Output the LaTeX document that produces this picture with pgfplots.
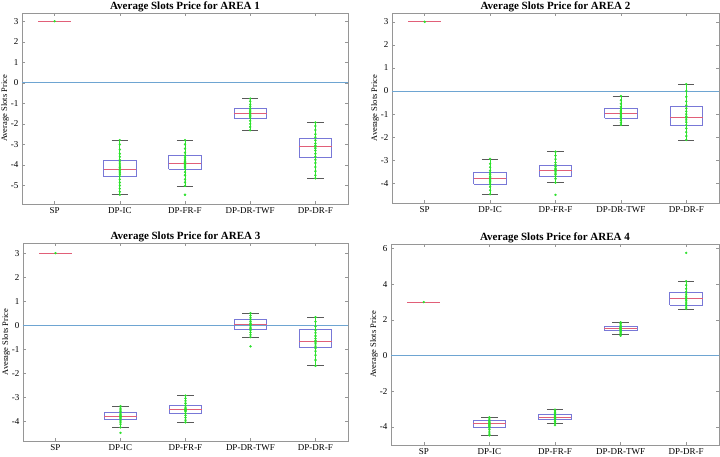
\documentclass[border=0pt]{standalone}
\usepackage{fontspec}
\setmainfont{Liberation Serif}
\usepackage{pgfplots}
\pgfplotsset{compat=1.18}

\definecolor{boxblue}{RGB}{120,120,215}
\definecolor{medred}{RGB}{225,95,120}
\definecolor{dotgreen}{RGB}{45,225,45}
\definecolor{zeroblue}{RGB}{110,165,210}
\definecolor{framegray}{RGB}{150,150,150}
\definecolor{capgray}{RGB}{90,90,90}

\pgfplotsset{
  slotpanel/.style={
    scale only axis,
    anchor=south west,
    xmin=0.5, xmax=5.5,
    xtick={1,2,3,4,5},
    xticklabels={SP,DP-IC,DP-FR-F,DP-DR-TWF,DP-DR-F},
    tick align=inside,
    major tick length=3pt,
    tick style={draw=framegray, line width=0.5pt},
    axis line style={draw=framegray, line width=0.6pt},
    ticklabel style={font=\fontsize{9}{10}\selectfont},
    /pgf/number format/assume math mode=true,
    title style={at={(0.5,1)}, anchor=base, yshift=-3pt,
      font=\fontsize{11}{12}\selectfont\bfseries},
    every axis y label/.style={at={(axis description cs:0,0.5)}, xshift=-17pt,
      rotate=90, anchor=center, font=\fontsize{8.5}{9}\selectfont},
    ylabel={Average Slots Price},
    unbounded coords=jump,
  },
  % whisker caps
  caps/.style={draw=capgray, line width=0.6pt, mark=none},
  % whisker stems, overlaid by the raw samples
  stems/.style={draw=dotgreen, line width=0.7pt, mark=none},
  % interquartile boxes
  iqbox/.style={draw=boxblue, line width=0.8pt, mark=none},
  % medians
  med/.style={draw=medred, line width=1pt, mark=none},
  zeroref/.style={draw=zeroblue, line width=1pt, mark=none},
  rawdots/.style={only marks, draw=dotgreen, fill=dotgreen, mark=*, mark size=1.0pt},
}

\begin{document}
\begin{tikzpicture}
\useasboundingbox (0,0) rectangle (720pt,457pt);

% ---------------- AREA 1 ----------------
\begin{axis}[slotpanel, at={(22pt,253pt)}, width=326pt, height=191pt,
  ymin=-5.9, ymax=3.4, ytick={-5,-4,...,3},
  title={Average Slots Price for AREA 1}]
  \addplot[zeroref] coordinates {(0.5,0) (5.5,0)};
  \addplot[caps] coordinates {
    (0.875,3) (1.125,3) (1,nan)
    (1.875,-2.79) (2.125,-2.79) (2,nan) (1.875,-5.45) (2.125,-5.45) (2,nan)
    (2.875,-2.79) (3.125,-2.79) (3,nan) (2.875,-5.02) (3.125,-5.02) (3,nan)
    (3.875,-0.77) (4.125,-0.77) (4,nan) (3.875,-2.31) (4.125,-2.31) (4,nan)
    (4.875,-1.93) (5.125,-1.93) (5,nan) (4.875,-4.65) (5.125,-4.65)
  };
  \addplot[stems] coordinates {
    (2,-2.79) (2,-5.45) (2,nan)
    (3,-2.79) (3,-5.02) (3,nan)
    (4,-0.77) (4,-2.31) (4,nan)
    (5,-1.93) (5,-4.65)
  };
  \addplot[iqbox] coordinates {
    (0.75,3) (1.25,3) (1,nan)
    (1.75,-4.57) (2.25,-4.57) (2.25,-3.76) (1.75,-3.76) (1.75,-4.57) (2,nan)
    (2.75,-4.21) (3.25,-4.21) (3.25,-3.55) (2.75,-3.55) (2.75,-4.21) (3,nan)
    (3.75,-1.71) (4.25,-1.71) (4.25,-1.25) (3.75,-1.25) (3.75,-1.71) (4,nan)
    (4.75,-3.65) (5.25,-3.65) (5.25,-2.71) (4.75,-2.71) (4.75,-3.65)
  };
  \addplot[med] coordinates {
    (0.75,3) (1.25,3) (1,nan)
    (1.75,-4.21) (2.25,-4.21) (2,nan)
    (2.75,-3.92) (3.25,-3.92) (3,nan)
    (3.75,-1.47) (4.25,-1.47) (4,nan)
    (4.75,-3.12) (5.25,-3.12)
  };
  \addplot[rawdots] coordinates {
    (1,3)
    (2,-2.79) (2,-3.0) (2,-3.25) (2,-3.45) (2,-3.6) (2,-3.75) (2,-3.85) (2,-3.95) (2,-4.05) (2,-4.12) (2,-4.2) (2,-4.25) (2,-4.3) (2,-4.38) (2,-4.45) (2,-4.55) (2,-4.7) (2,-4.85) (2,-5.0) (2,-5.15) (2,-5.3) (2,-5.45)
    (3,-2.79) (3,-3.0) (3,-3.2) (3,-3.4) (3,-3.55) (3,-3.65) (3,-3.75) (3,-3.82) (3,-3.88) (3,-3.92) (3,-3.97) (3,-4.05) (3,-4.12) (3,-4.2) (3,-4.35) (3,-4.5) (3,-4.7) (3,-4.85) (3,-5.02) (3,-5.45)
    (4,-0.77) (4,-0.9) (4,-1.05) (4,-1.15) (4,-1.25) (4,-1.32) (4,-1.38) (4,-1.42) (4,-1.47) (4,-1.52) (4,-1.58) (4,-1.65) (4,-1.72) (4,-1.85) (4,-2.0) (4,-2.15) (4,-2.31)
    (5,-1.93) (5,-2.1) (5,-2.3) (5,-2.5) (5,-2.65) (5,-2.8) (5,-2.95) (5,-3.05) (5,-3.12) (5,-3.2) (5,-3.3) (5,-3.45) (5,-3.6) (5,-3.75) (5,-3.9) (5,-4.1) (5,-4.3) (5,-4.5) (5,-4.65)
  };
\end{axis}

% ---------------- AREA 2 ----------------
\begin{axis}[slotpanel, at={(392pt,254pt)}, width=327pt, height=190pt,
  ymin=-4.85, ymax=3.38, ytick={-4,-3,...,3},
  title={Average Slots Price for AREA 2}]
  \addplot[zeroref] coordinates {(0.5,0) (5.5,0)};
  \addplot[caps] coordinates {
    (0.875,3) (1.125,3) (1,nan)
    (1.875,-2.94) (2.125,-2.94) (2,nan) (1.875,-4.47) (2.125,-4.47) (2,nan)
    (2.875,-2.63) (3.125,-2.63) (3,nan) (2.875,-3.97) (3.125,-3.97) (3,nan)
    (3.875,-0.22) (4.125,-0.22) (4,nan) (3.875,-1.47) (4.125,-1.47) (4,nan)
    (4.875,0.3) (5.125,0.3) (5,nan) (4.875,-2.12) (5.125,-2.12)
  };
  \addplot[stems] coordinates {
    (2,-2.94) (2,-4.47) (2,nan)
    (3,-2.63) (3,-3.97) (3,nan)
    (4,-0.22) (4,-1.47) (4,nan)
    (5,0.3) (5,-2.12)
  };
  \addplot[iqbox] coordinates {
    (0.75,3) (1.25,3) (1,nan)
    (1.75,-4.04) (2.25,-4.04) (2.25,-3.54) (1.75,-3.54) (1.75,-4.04) (2,nan)
    (2.75,-3.68) (3.25,-3.68) (3.25,-3.2) (2.75,-3.2) (2.75,-3.68) (3,nan)
    (3.75,-1.18) (4.25,-1.18) (4.25,-0.75) (3.75,-0.75) (3.75,-1.18) (4,nan)
    (4.75,-1.47) (5.25,-1.47) (5.25,-0.65) (4.75,-0.65) (4.75,-1.47)
  };
  \addplot[med] coordinates {
    (0.75,3) (1.25,3) (1,nan)
    (1.75,-3.81) (2.25,-3.81) (2,nan)
    (2.75,-3.45) (3.25,-3.45) (3,nan)
    (3.75,-0.97) (4.25,-0.97) (4,nan)
    (4.75,-1.14) (5.25,-1.14)
  };
  \addplot[rawdots] coordinates {
    (1,3)
    (2,-2.94) (2,-3.15) (2,-3.3) (2,-3.45) (2,-3.55) (2,-3.62) (2,-3.7) (2,-3.76) (2,-3.81) (2,-3.86) (2,-3.92) (2,-3.98) (2,-4.05) (2,-4.15) (2,-4.3) (2,-4.47)
    (3,-2.63) (3,-2.8) (3,-2.95) (3,-3.1) (3,-3.2) (3,-3.28) (3,-3.35) (3,-3.41) (3,-3.45) (3,-3.5) (3,-3.56) (3,-3.62) (3,-3.7) (3,-3.8) (3,-3.97) (3,-4.5)
    (4,-0.22) (4,-0.4) (4,-0.55) (4,-0.68) (4,-0.76) (4,-0.83) (4,-0.9) (4,-0.95) (4,-0.99) (4,-1.04) (4,-1.1) (4,-1.17) (4,-1.27) (4,-1.37) (4,-1.47)
    (5,0.3) (5,0.0) (5,-0.25) (5,-0.45) (5,-0.62) (5,-0.75) (5,-0.88) (5,-1.0) (5,-1.1) (5,-1.16) (5,-1.25) (5,-1.35) (5,-1.48) (5,-1.62) (5,-1.78) (5,-1.95) (5,-2.12)
  };
\end{axis}

% ---------------- AREA 3 ----------------
\begin{axis}[slotpanel, at={(23pt,16pt)}, width=325pt, height=198pt,
  ymin=-4.82, ymax=3.42, ytick={-4,-3,...,3},
  title={Average Slots Price for AREA 3}]
  \addplot[zeroref] coordinates {(0.5,0) (5.5,0)};
  \addplot[caps] coordinates {
    (0.875,3) (1.125,3) (1,nan)
    (1.875,-3.37) (2.125,-3.37) (2,nan) (1.875,-4.25) (2.125,-4.25) (2,nan)
    (2.875,-2.93) (3.125,-2.93) (3,nan) (2.875,-4.04) (3.125,-4.04) (3,nan)
    (3.875,0.5) (4.125,0.5) (4,nan) (3.875,-0.5) (4.125,-0.5) (4,nan)
    (4.875,0.33) (5.125,0.33) (5,nan) (4.875,-1.69) (5.125,-1.69)
  };
  \addplot[stems] coordinates {
    (2,-3.37) (2,-4.25) (2,nan)
    (3,-2.93) (3,-4.04) (3,nan)
    (4,0.5) (4,-0.5) (4,nan)
    (5,0.33) (5,-1.69)
  };
  \addplot[iqbox] coordinates {
    (0.75,3) (1.25,3) (1,nan)
    (1.75,-3.93) (2.25,-3.93) (2.25,-3.61) (1.75,-3.61) (1.75,-3.93) (2,nan)
    (2.75,-3.69) (3.25,-3.69) (3.25,-3.35) (2.75,-3.35) (2.75,-3.69) (3,nan)
    (3.75,-0.19) (4.25,-0.19) (4.25,0.23) (3.75,0.23) (3.75,-0.19) (4,nan)
    (4.75,-0.92) (5.25,-0.92) (5.25,-0.19) (4.75,-0.19) (4.75,-0.92)
  };
  \addplot[med] coordinates {
    (0.75,3) (1.25,3) (1,nan)
    (1.75,-3.79) (2.25,-3.79) (2,nan)
    (2.75,-3.51) (3.25,-3.51) (3,nan)
    (3.75,0.02) (4.25,0.02) (4,nan)
    (4.75,-0.67) (5.25,-0.67)
  };
  \addplot[rawdots] coordinates {
    (1,3)
    (2,-3.37) (2,-3.45) (2,-3.53) (2,-3.6) (2,-3.66) (2,-3.72) (2,-3.77) (2,-3.8) (2,-3.84) (2,-3.89) (2,-3.95) (2,-4.03) (2,-4.12) (2,-4.25) (2,-4.48)
    (3,-2.93) (3,-3.05) (3,-3.15) (3,-3.25) (3,-3.34) (3,-3.41) (3,-3.47) (3,-3.51) (3,-3.55) (3,-3.6) (3,-3.67) (3,-3.75) (3,-3.85) (3,-3.95) (3,-4.04)
    (4,0.5) (4,0.4) (4,0.3) (4,0.22) (4,0.15) (4,0.08) (4,0.03) (4,-0.02) (4,-0.08) (4,-0.14) (4,-0.2) (4,-0.3) (4,-0.4) (4,-0.5) (4,-0.88)
    (5,0.33) (5,0.15) (5,-0.05) (5,-0.2) (5,-0.32) (5,-0.45) (5,-0.56) (5,-0.64) (5,-0.7) (5,-0.78) (5,-0.87) (5,-0.95) (5,-1.08) (5,-1.25) (5,-1.45) (5,-1.69)
  };
\end{axis}

% ---------------- AREA 4 ----------------
\begin{axis}[slotpanel, at={(391pt,12pt)}, width=328pt, height=201pt,
  ymin=-5.01, ymax=6.26, ytick={-4,-2,...,6},
  title={Average Slots Price for AREA 4}]
  \addplot[zeroref] coordinates {(0.5,0) (5.5,0)};
  \addplot[caps] coordinates {
    (0.875,3) (1.125,3) (1,nan)
    (1.875,-3.46) (2.125,-3.46) (2,nan) (1.875,-4.47) (2.125,-4.47) (2,nan)
    (2.875,-3.03) (3.125,-3.03) (3,nan) (2.875,-3.78) (3.125,-3.78) (3,nan)
    (3.875,1.87) (4.125,1.87) (4,nan) (3.875,1.22) (4.125,1.22) (4,nan)
    (4.875,4.17) (5.125,4.17) (5,nan) (4.875,2.62) (5.125,2.62)
  };
  \addplot[stems] coordinates {
    (2,-3.46) (2,-4.47) (2,nan)
    (3,-3.03) (3,-3.78) (3,nan)
    (4,1.87) (4,1.22) (4,nan)
    (5,4.17) (5,2.62)
  };
  \addplot[iqbox] coordinates {
    (0.75,3) (1.25,3) (1,nan)
    (1.75,-4.02) (2.25,-4.02) (2.25,-3.65) (1.75,-3.65) (1.75,-4.02) (2,nan)
    (2.75,-3.59) (3.25,-3.59) (3.25,-3.31) (2.75,-3.31) (2.75,-3.59) (3,nan)
    (3.75,1.4) (4.25,1.4) (4.25,1.65) (3.75,1.65) (3.75,1.4) (4,nan)
    (4.75,2.82) (5.25,2.82) (5.25,3.52) (4.75,3.52) (4.75,2.82)
  };
  \addplot[med] coordinates {
    (0.75,3) (1.25,3) (1,nan)
    (1.75,-3.83) (2.25,-3.83) (2,nan)
    (2.75,-3.46) (3.25,-3.46) (3,nan)
    (3.75,1.55) (4.25,1.55) (4,nan)
    (4.75,3.2) (5.25,3.2)
  };
  \addplot[rawdots] coordinates {
    (1,3)
    (2,-3.46) (2,-3.55) (2,-3.62) (2,-3.68) (2,-3.74) (2,-3.79) (2,-3.83) (2,-3.87) (2,-3.92) (2,-3.98) (2,-4.05) (2,-4.15) (2,-4.28) (2,-4.4) (2,-4.47)
    (3,-3.03) (3,-3.1) (3,-3.18) (3,-3.25) (3,-3.32) (3,-3.38) (3,-3.43) (3,-3.46) (3,-3.5) (3,-3.55) (3,-3.6) (3,-3.68) (3,-3.78) (3,-3.9)
    (4,1.87) (4,1.8) (4,1.72) (4,1.66) (4,1.61) (4,1.57) (4,1.54) (4,1.5) (4,1.46) (4,1.41) (4,1.35) (4,1.28) (4,1.22) (4,1.12)
    (5,5.76) (5,4.17) (5,3.95) (5,3.75) (5,3.58) (5,3.45) (5,3.33) (5,3.24) (5,3.18) (5,3.1) (5,3.0) (5,2.9) (5,2.82) (5,2.72) (5,2.62)
  };
\end{axis}
\end{tikzpicture}
\end{document}
